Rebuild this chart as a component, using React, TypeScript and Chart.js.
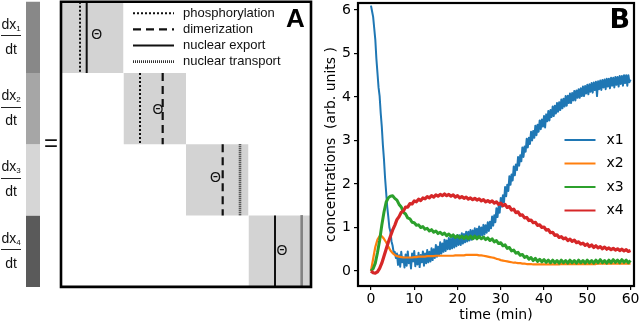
import React, { useEffect, useRef } from "react";
import { Chart, registerables } from "chart.js";

Chart.register(...registerables);

// ---------------- Panel B data (time courses) ----------------
// x1 is sampled every 0.25 min (it is the noisiest trace)
const TIME_FINE = [
  0, 0.25, 0.5, 0.75, 1, 1.25, 1.5, 1.75, 2, 2.25, 2.5, 2.75, 3, 3.25, 3.5, 3.75, 4, 4.25, 4.5, 4.75,
  5, 5.25, 5.5, 5.75, 6, 6.25, 6.5, 6.75, 7, 7.25, 7.5, 7.75, 8, 8.25, 8.5, 8.75, 9, 9.25, 9.5, 9.75,
  10, 10.25, 10.5, 10.75, 11, 11.25, 11.5, 11.75, 12, 12.25, 12.5, 12.75, 13, 13.25, 13.5, 13.75, 14, 14.25, 14.5, 14.75,
  15, 15.25, 15.5, 15.75, 16, 16.25, 16.5, 16.75, 17, 17.25, 17.5, 17.75, 18, 18.25, 18.5, 18.75, 19, 19.25, 19.5, 19.75,
  20, 20.25, 20.5, 20.75, 21, 21.25, 21.5, 21.75, 22, 22.25, 22.5, 22.75, 23, 23.25, 23.5, 23.75, 24, 24.25, 24.5, 24.75,
  25, 25.25, 25.5, 25.75, 26, 26.25, 26.5, 26.75, 27, 27.25, 27.5, 27.75, 28, 28.25, 28.5, 28.75, 29, 29.25, 29.5, 29.75,
  30, 30.25, 30.5, 30.75, 31, 31.25, 31.5, 31.75, 32, 32.25, 32.5, 32.75, 33, 33.25, 33.5, 33.75, 34, 34.25, 34.5, 34.75,
  35, 35.25, 35.5, 35.75, 36, 36.25, 36.5, 36.75, 37, 37.25, 37.5, 37.75, 38, 38.25, 38.5, 38.75, 39, 39.25, 39.5, 39.75,
  40, 40.25, 40.5, 40.75, 41, 41.25, 41.5, 41.75, 42, 42.25, 42.5, 42.75, 43, 43.25, 43.5, 43.75, 44, 44.25, 44.5, 44.75,
  45, 45.25, 45.5, 45.75, 46, 46.25, 46.5, 46.75, 47, 47.25, 47.5, 47.75, 48, 48.25, 48.5, 48.75, 49, 49.25, 49.5, 49.75,
  50, 50.25, 50.5, 50.75, 51, 51.25, 51.5, 51.75, 52, 52.25, 52.5, 52.75, 53, 53.25, 53.5, 53.75, 54, 54.25, 54.5, 54.75,
  55, 55.25, 55.5, 55.75, 56, 56.25, 56.5, 56.75, 57, 57.25, 57.5, 57.75, 58, 58.25, 58.5, 58.75, 59, 59.25, 59.5, 59.75,
  60,
];

// x2, x3, x4 are sampled every 0.5 min
const TIME = [
  0, 0.5, 1, 1.5, 2, 2.5, 3, 3.5, 4, 4.5,
  5, 5.5, 6, 6.5, 7, 7.5, 8, 8.5, 9, 9.5,
  10, 10.5, 11, 11.5, 12, 12.5, 13, 13.5, 14, 14.5,
  15, 15.5, 16, 16.5, 17, 17.5, 18, 18.5, 19, 19.5,
  20, 20.5, 21, 21.5, 22, 22.5, 23, 23.5, 24, 24.5,
  25, 25.5, 26, 26.5, 27, 27.5, 28, 28.5, 29, 29.5,
  30, 30.5, 31, 31.5, 32, 32.5, 33, 33.5, 34, 34.5,
  35, 35.5, 36, 36.5, 37, 37.5, 38, 38.5, 39, 39.5,
  40, 40.5, 41, 41.5, 42, 42.5, 43, 43.5, 44, 44.5,
  45, 45.5, 46, 46.5, 47, 47.5, 48, 48.5, 49, 49.5,
  50, 50.5, 51, 51.5, 52, 52.5, 53, 53.5, 54, 54.5,
  55, 55.5, 56, 56.5, 57, 57.5, 58, 58.5, 59, 59.5,
  60,
];

const X1 = [
  6.10, 5.97, 5.84, 5.58, 5.32, 4.88, 4.55, 4.22, 4.02, 3.63, 3.32, 2.90, 2.57, 2.15, 1.82, 1.48, 1.25, 1.00, 0.90, 0.68,
  0.58, 0.42, 0.44, 0.30, 0.40, 0.14, 0.36, 0.10, 0.44, 0.20, 0.31, 0.08, 0.38, 0.12, 0.45, 0.18, 0.30, 0.06, 0.40, 0.22,
  0.46, 0.11, 0.34, 0.15, 0.42, 0.09, 0.37, 0.20, 0.45, 0.12, 0.40, 0.18, 0.48, 0.20, 0.44, 0.22, 0.52, 0.25, 0.50, 0.30,
  0.60, 0.33, 0.56, 0.36, 0.66, 0.40, 0.63, 0.44, 0.72, 0.46, 0.70, 0.50, 0.76, 0.50, 0.74, 0.52, 0.80, 0.54, 0.78, 0.57,
  0.83, 0.60, 0.82, 0.60, 0.87, 0.63, 0.85, 0.66, 0.90, 0.68, 0.90, 0.70, 0.94, 0.72, 0.93, 0.74, 0.98, 0.76, 0.97, 0.78,
  1.02, 0.80, 1.00, 0.82, 1.06, 0.84, 1.05, 0.88, 1.12, 0.92, 1.13, 0.98, 1.25, 1.04, 1.28, 1.12, 1.44, 1.24, 1.48, 1.34,
  1.68, 1.48, 1.74, 1.58, 1.93, 1.72, 1.98, 1.84, 2.18, 1.98, 2.22, 2.08, 2.40, 2.20, 2.45, 2.32, 2.62, 2.42, 2.66, 2.52,
  2.84, 2.62, 2.86, 2.74, 3.04, 2.84, 3.06, 2.92, 3.20, 3.00, 3.22, 3.06, 3.34, 3.12, 3.36, 3.20, 3.46, 3.26, 3.48, 3.32,
  3.56, 3.30, 3.60, 3.44, 3.68, 3.46, 3.70, 3.54, 3.78, 3.56, 3.80, 3.62, 3.86, 3.66, 3.88, 3.70, 3.94, 3.74, 3.96, 3.78,
  4.02, 3.80, 4.03, 3.86, 4.08, 3.86, 4.09, 3.92, 4.14, 3.92, 4.15, 3.98, 4.18, 3.98, 4.20, 4.02, 4.24, 4.02, 4.25, 4.08,
  4.28, 4.06, 4.29, 4.12, 4.32, 4.10, 4.33, 4.16, 4.35, 4.02, 4.36, 4.18, 4.38, 4.16, 4.39, 4.22, 4.40, 4.18, 4.42, 4.24,
  4.42, 4.20, 4.44, 4.26, 4.44, 4.22, 4.46, 4.28, 4.46, 4.24, 4.48, 4.30, 4.48, 4.26, 4.50, 4.32, 4.50, 4.26, 4.50, 4.34,
  4.40,
];

const X2 = [
  0.00, 0.28, 0.55, 0.72, 0.80, 0.80, 0.74, 0.66, 0.56, 0.47,
  0.41, 0.37, 0.34, 0.33, 0.32, 0.31, 0.31, 0.31, 0.31, 0.31,
  0.32, 0.32, 0.33, 0.33, 0.33, 0.33, 0.34, 0.34, 0.34, 0.34,
  0.35, 0.35, 0.35, 0.35, 0.35, 0.35, 0.35, 0.35, 0.35, 0.36,
  0.36, 0.36, 0.36, 0.36, 0.37, 0.37, 0.37, 0.37, 0.37, 0.37,
  0.36, 0.36, 0.35, 0.34, 0.33, 0.32, 0.31, 0.30, 0.28, 0.27,
  0.25, 0.24, 0.23, 0.22, 0.21, 0.20, 0.19, 0.19, 0.18, 0.18,
  0.17, 0.17, 0.16, 0.16, 0.16, 0.15, 0.15, 0.15, 0.15, 0.15,
  0.15, 0.15, 0.15, 0.15, 0.15, 0.15, 0.15, 0.15, 0.16, 0.16,
  0.16, 0.16, 0.16, 0.16, 0.16, 0.16, 0.16, 0.16, 0.16, 0.16,
  0.16, 0.16, 0.16, 0.16, 0.16, 0.17, 0.17, 0.17, 0.17, 0.17,
  0.17, 0.17, 0.17, 0.17, 0.17, 0.17, 0.17, 0.17, 0.17, 0.17,
  0.17,
];

const X3 = [
  0.00, 0.05, 0.18, 0.42, 0.70, 1.05, 1.35, 1.58, 1.68, 1.72,
  1.73, 1.67, 1.63, 1.53, 1.47, 1.35, 1.31, 1.22, 1.20, 1.12,
  1.11, 1.05, 1.06, 1.00, 1.02, 0.96, 0.98, 0.92, 0.95, 0.89,
  0.92, 0.86, 0.89, 0.84, 0.87, 0.81, 0.85, 0.79, 0.83, 0.77,
  0.81, 0.76, 0.80, 0.75, 0.80, 0.74, 0.80, 0.74, 0.80, 0.74,
  0.79, 0.74, 0.78, 0.72, 0.76, 0.70, 0.74, 0.67, 0.70, 0.63,
  0.65, 0.58, 0.60, 0.52, 0.54, 0.46, 0.48, 0.41, 0.43, 0.36,
  0.38, 0.31, 0.34, 0.27, 0.31, 0.24, 0.29, 0.22, 0.27, 0.21,
  0.26, 0.20, 0.25, 0.19, 0.25, 0.19, 0.24, 0.18, 0.25, 0.19,
  0.24, 0.18, 0.25, 0.19, 0.24, 0.18, 0.25, 0.19, 0.24, 0.18,
  0.25, 0.19, 0.24, 0.18, 0.25, 0.19, 0.26, 0.19, 0.24, 0.18,
  0.25, 0.19, 0.26, 0.20, 0.25, 0.19, 0.26, 0.20, 0.25, 0.19,
  0.24,
];

const X4 = [
  0.00, -0.04, -0.05, -0.02, 0.06, 0.18, 0.34, 0.50, 0.66, 0.80,
  0.94, 1.05, 1.18, 1.25, 1.35, 1.38, 1.47, 1.47, 1.55, 1.54,
  1.61, 1.59, 1.65, 1.62, 1.68, 1.66, 1.71, 1.68, 1.73, 1.70,
  1.75, 1.72, 1.76, 1.73, 1.77, 1.73, 1.76, 1.72, 1.75, 1.70,
  1.73, 1.68, 1.71, 1.67, 1.70, 1.65, 1.68, 1.64, 1.67, 1.63,
  1.66, 1.61, 1.64, 1.59, 1.62, 1.58, 1.61, 1.56, 1.59, 1.53,
  1.56, 1.50, 1.53, 1.46, 1.48, 1.40, 1.42, 1.34, 1.36, 1.28,
  1.29, 1.22, 1.23, 1.16, 1.17, 1.11, 1.12, 1.05, 1.06, 1.00,
  1.01, 0.94, 0.95, 0.88, 0.89, 0.82, 0.83, 0.77, 0.79, 0.74,
  0.76, 0.70, 0.73, 0.68, 0.71, 0.65, 0.67, 0.62, 0.64, 0.59,
  0.62, 0.56, 0.60, 0.54, 0.58, 0.53, 0.56, 0.51, 0.55, 0.50,
  0.53, 0.49, 0.52, 0.48, 0.51, 0.47, 0.50, 0.46, 0.49, 0.45,
  0.47,
];

const SERIES_NAMES = ["x1", "x2", "x3", "x4"];
const X_TICKS = [0, 10, 20, 30, 40, 50, 60];
const Y_TICKS = [0, 1, 2, 3, 4, 5, 6];

// ---------------- Panel A data (matrix diagram) ----------------
const ROW_SUBSCRIPTS = ["1", "2", "3", "4"];
const BLOCK_ROWS = [0, 1, 2, 3];
const LINE_ROW = [0, 0, 1, 1, 2, 2, 3, 3];
const LINE_X = [0.304, 0.411, 1.264, 1.627, 2.587, 2.864, 3.424, 3.851];
const LINE_KIND = ["phos", "export", "phos", "dimer", "dimer", "transport", "export", "transport"];
const THETA_X = [0.571, 1.552, 2.472, 3.536];
const THETA_Y = [0.467, 1.519, 2.48, 3.496];
const LEGEND_KINDS = ["phos", "dimer", "export", "transport"];
const LEGEND_TEXT = ["phosphorylation", "dimerization", "nuclear export", "nuclear transport"];

// ---------------- styles ----------------
const SERIES_STYLE = [
  { color: "#1f77b4", width: 2 },
  { color: "#ff7f0e", width: 2.2 },
  { color: "#2ca02c", width: 3 },
  { color: "#d62728", width: 3.2 },
];
const ROW_SHADES = ["#888888", "#a6a6a6", "#d6d6d6", "#5a5a5a"];
const KIND_STYLE: Record<string, { dash: number[]; width: number; color: string }> = {
  phos: { dash: [2, 2], width: 2, color: "#111" },
  dimer: { dash: [8, 5], width: 2.2, color: "#111" },
  export: { dash: [], width: 2, color: "#111" },
  transport: { dash: [1, 1], width: 2.6, color: "#333" },
};
const BLOCK_GRAY = "#d3d3d3";
const FONT_A = '"Liberation Sans", Arial, sans-serif';

const panelADecor = {
  id: "panelADecor",
  afterDatasetsDraw(chart: any) {
    const { ctx, scales } = chart;
    const xs = scales.x;
    const ys = scales.y;
    ctx.save();
    ctx.fillStyle = "#111";
    ctx.font = `14px ${FONT_A}`;
    ctx.textAlign = "center";
    ctx.textBaseline = "middle";
    THETA_X.forEach((tx, i) => {
      ctx.fillText("\u0398", xs.getPixelForValue(tx), ys.getPixelForValue(THETA_Y[i]));
    });
    ctx.textAlign = "left";
    ctx.font = `13px ${FONT_A}`;
    LEGEND_KINDS.forEach((k, i) => {
      const st = KIND_STYLE[k];
      const yy = 13.3 + i * 16.1;
      ctx.strokeStyle = st.color;
      ctx.lineWidth = st.width;
      ctx.setLineDash(st.dash);
      ctx.beginPath();
      ctx.moveTo(133, yy);
      ctx.lineTo(174, yy);
      ctx.stroke();
      ctx.setLineDash([]);
      ctx.fillStyle = "#111";
      ctx.fillText(LEGEND_TEXT[i], 183, yy);
    });
    ctx.fillStyle = "#000";
    ctx.font = `bold 26px ${FONT_A}`;
    ctx.textBaseline = "alphabetic";
    ctx.fillText("A", 286, 27);
    ctx.restore();
  },
};

const panelBDecor = {
  id: "panelBDecor",
  afterDatasetsDraw(chart: any) {
    const { ctx, chartArea: a } = chart;
    ctx.save();
    ctx.strokeStyle = "#000";
    ctx.lineWidth = 2.2;
    ctx.strokeRect(a.left, a.top, a.right - a.left, a.bottom - a.top);
    ctx.font = '14px "DejaVu Sans"';
    ctx.textBaseline = "middle";
    ctx.textAlign = "left";
    chart.data.datasets.forEach((ds: any, i: number) => {
      const y = a.top + 137 + i * 23.5;
      ctx.strokeStyle = ds.borderColor;
      ctx.lineWidth = 2;
      ctx.beginPath();
      ctx.moveTo(a.right - 69.5, y);
      ctx.lineTo(a.right - 38.5, y);
      ctx.stroke();
      ctx.fillStyle = "#000";
      ctx.fillText(ds.label, a.right - 27.5, y);
    });
    ctx.font = 'bold 27px "DejaVu Sans"';
    ctx.textBaseline = "alphabetic";
    ctx.fillText("B", a.right - 24.5, a.top + 25);
    ctx.restore();
  },
};

function rect(x0: number, x1: number, y0: number, y1: number, color: string) {
  return {
    data: [
      { x: x0, y: y0 },
      { x: x1, y: y0 },
    ],
    showLine: true,
    borderColor: "rgba(0,0,0,0)",
    borderWidth: 1,
    backgroundColor: color,
    fill: { value: y1 },
    pointRadius: 0,
    order: 10,
  };
}

export default function App() {
  const refA = useRef<HTMLCanvasElement>(null);
  const refB = useRef<HTMLCanvasElement>(null);

  useEffect(() => {
    const datasetsA: any[] = [];
    BLOCK_ROWS.forEach((r) => datasetsA.push(rect(r, r + 1, r, r + 1, BLOCK_GRAY)));
    ROW_SHADES.forEach((c, r) => datasetsA.push(rect(-0.56, -0.336, r, r + 1, c)));
    LINE_X.forEach((lx, i) => {
      const st = KIND_STYLE[LINE_KIND[i]];
      const r = LINE_ROW[i];
      datasetsA.push({
        data: [
          { x: lx, y: r },
          { x: lx, y: r + 1 },
        ],
        showLine: true,
        borderColor: st.color,
        borderWidth: st.width,
        borderDash: st.dash,
        fill: false,
        pointRadius: 0,
        order: 5,
      });
    });
    datasetsA.push({
      data: [
        { x: 0, y: 0 },
        { x: 4, y: 0 },
        { x: 4, y: 4 },
        { x: 0, y: 4 },
        { x: 0, y: 0 },
      ],
      showLine: true,
      borderColor: "#000",
      borderWidth: 2.6,
      borderJoinStyle: "miter",
      borderCapStyle: "square",
      fill: false,
      pointRadius: 0,
      order: 1,
    });

    const chartA = new Chart(refA.current as HTMLCanvasElement, {
      type: "scatter",
      data: { datasets: datasetsA },
      options: {
        responsive: false,
        animation: false,
        events: [],
        layout: { padding: 0 },
        plugins: { legend: { display: false }, tooltip: { enabled: false } },
        elements: { point: { radius: 0, hoverRadius: 0 }, line: { tension: 0 } },
        scales: {
          x: { type: "linear", display: false, min: -0.976, max: 4.064 },
          y: { type: "linear", display: false, min: -0.024, max: 4.52, reverse: true },
        },
      },
      plugins: [panelADecor],
    } as any);

    const SERIES = [X1, X2, X3, X4];
    const SERIES_TIME = [TIME_FINE, TIME, TIME, TIME];
    const tickFont = { family: "DejaVu Sans", size: 14 };
    const chartB = new Chart(refB.current as HTMLCanvasElement, {
      type: "line",
      data: {
        datasets: SERIES.map((vals, i) => ({
          label: SERIES_NAMES[i],
          data: SERIES_TIME[i].map((t, j) => ({ x: t, y: vals[j] })),
          borderColor: SERIES_STYLE[i].color,
          backgroundColor: SERIES_STYLE[i].color,
          borderWidth: SERIES_STYLE[i].width,
          borderJoinStyle: "round",
          pointRadius: 0,
          fill: false,
          tension: 0,
          order: 4 - i,
        })),
      },
      options: {
        responsive: false,
        animation: false,
        events: [],
        layout: { padding: { top: 3, right: 6, bottom: 0, left: 0 } },
        plugins: { legend: { display: false }, tooltip: { enabled: false } },
        scales: {
          x: {
            type: "linear",
            min: -3,
            max: 60.8,
            bounds: "data",
            afterBuildTicks: (s: any) => {
              s.ticks = X_TICKS.map((v) => ({ value: v }));
            },
            afterFit: (s: any) => {
              s.height = 38;
              s.paddingLeft = 0;
              s.paddingRight = 0;
            },
            grid: { display: true, drawOnChartArea: false, drawTicks: true, tickLength: 4, color: "#000", lineWidth: 1.2 },
            border: { display: false },
            ticks: { color: "#000", font: tickFont, padding: 1, maxRotation: 0, autoSkip: false },
            title: { display: true, text: "time (min)", color: "#000", font: tickFont, padding: { top: 0, bottom: 0 } },
          },
          y: {
            type: "linear",
            min: -0.345,
            max: 6.16,
            bounds: "data",
            afterBuildTicks: (s: any) => {
              s.ticks = Y_TICKS.map((v) => ({ value: v }));
            },
            afterFit: (s: any) => {
              s.width = 43;
              s.paddingTop = 0;
              s.paddingBottom = 0;
            },
            grid: { display: true, drawOnChartArea: false, drawTicks: true, tickLength: 4, color: "#000", lineWidth: 1.2 },
            border: { display: false },
            ticks: { color: "#000", font: tickFont, padding: 3, autoSkip: false },
            title: {
              display: true,
              text: "concentrations  (arb. units )",
              color: "#000",
              font: tickFont,
              padding: { top: 8, bottom: 0 },
            },
          },
        },
      },
      plugins: [panelBDecor],
    } as any);

    return () => {
      chartA.destroy();
      chartB.destroy();
    };
  }, []);

  return (
    <div
      style={{
        position: "fixed",
        left: 0,
        top: 0,
        width: 640,
        height: 324,
        background: "#fff",
        overflow: "hidden",
      }}
    >
      <canvas ref={refA} width={315} height={324} style={{ position: "absolute", left: 0, top: 0 }} />
      {ROW_SUBSCRIPTS.map((s, r) => {
        const c = 1.7 + 71.3 * (r + 0.5);
        const common: React.CSSProperties = {
          position: "absolute",
          left: 0,
          width: 22,
          textAlign: "center",
          fontFamily: FONT_A,
          fontSize: 14,
          lineHeight: "16px",
          height: 16,
          color: "#111",
          whiteSpace: "nowrap",
        };
        return (
          <React.Fragment key={r}>
            <div style={{ ...common, top: c - 21.5 }}>
              dx<span style={{ fontSize: 8, position: "relative", top: 2 }}>{s}</span>
            </div>
            <div style={{ position: "absolute", left: 1, top: c - 2, width: 20, height: 1, background: "#222" }} />
            <div style={{ ...common, top: c + 3.5 }}>dt</div>
          </React.Fragment>
        );
      })}
      <span
        style={{
          position: "absolute",
          left: 44,
          top: 131,
          fontFamily: FONT_A,
          fontSize: 24,
          lineHeight: "24px",
          color: "#111",
        }}
      >
        =
      </span>
      <canvas ref={refB} width={325} height={324} style={{ position: "absolute", left: 315, top: 0 }} />
    </div>
  );
}
